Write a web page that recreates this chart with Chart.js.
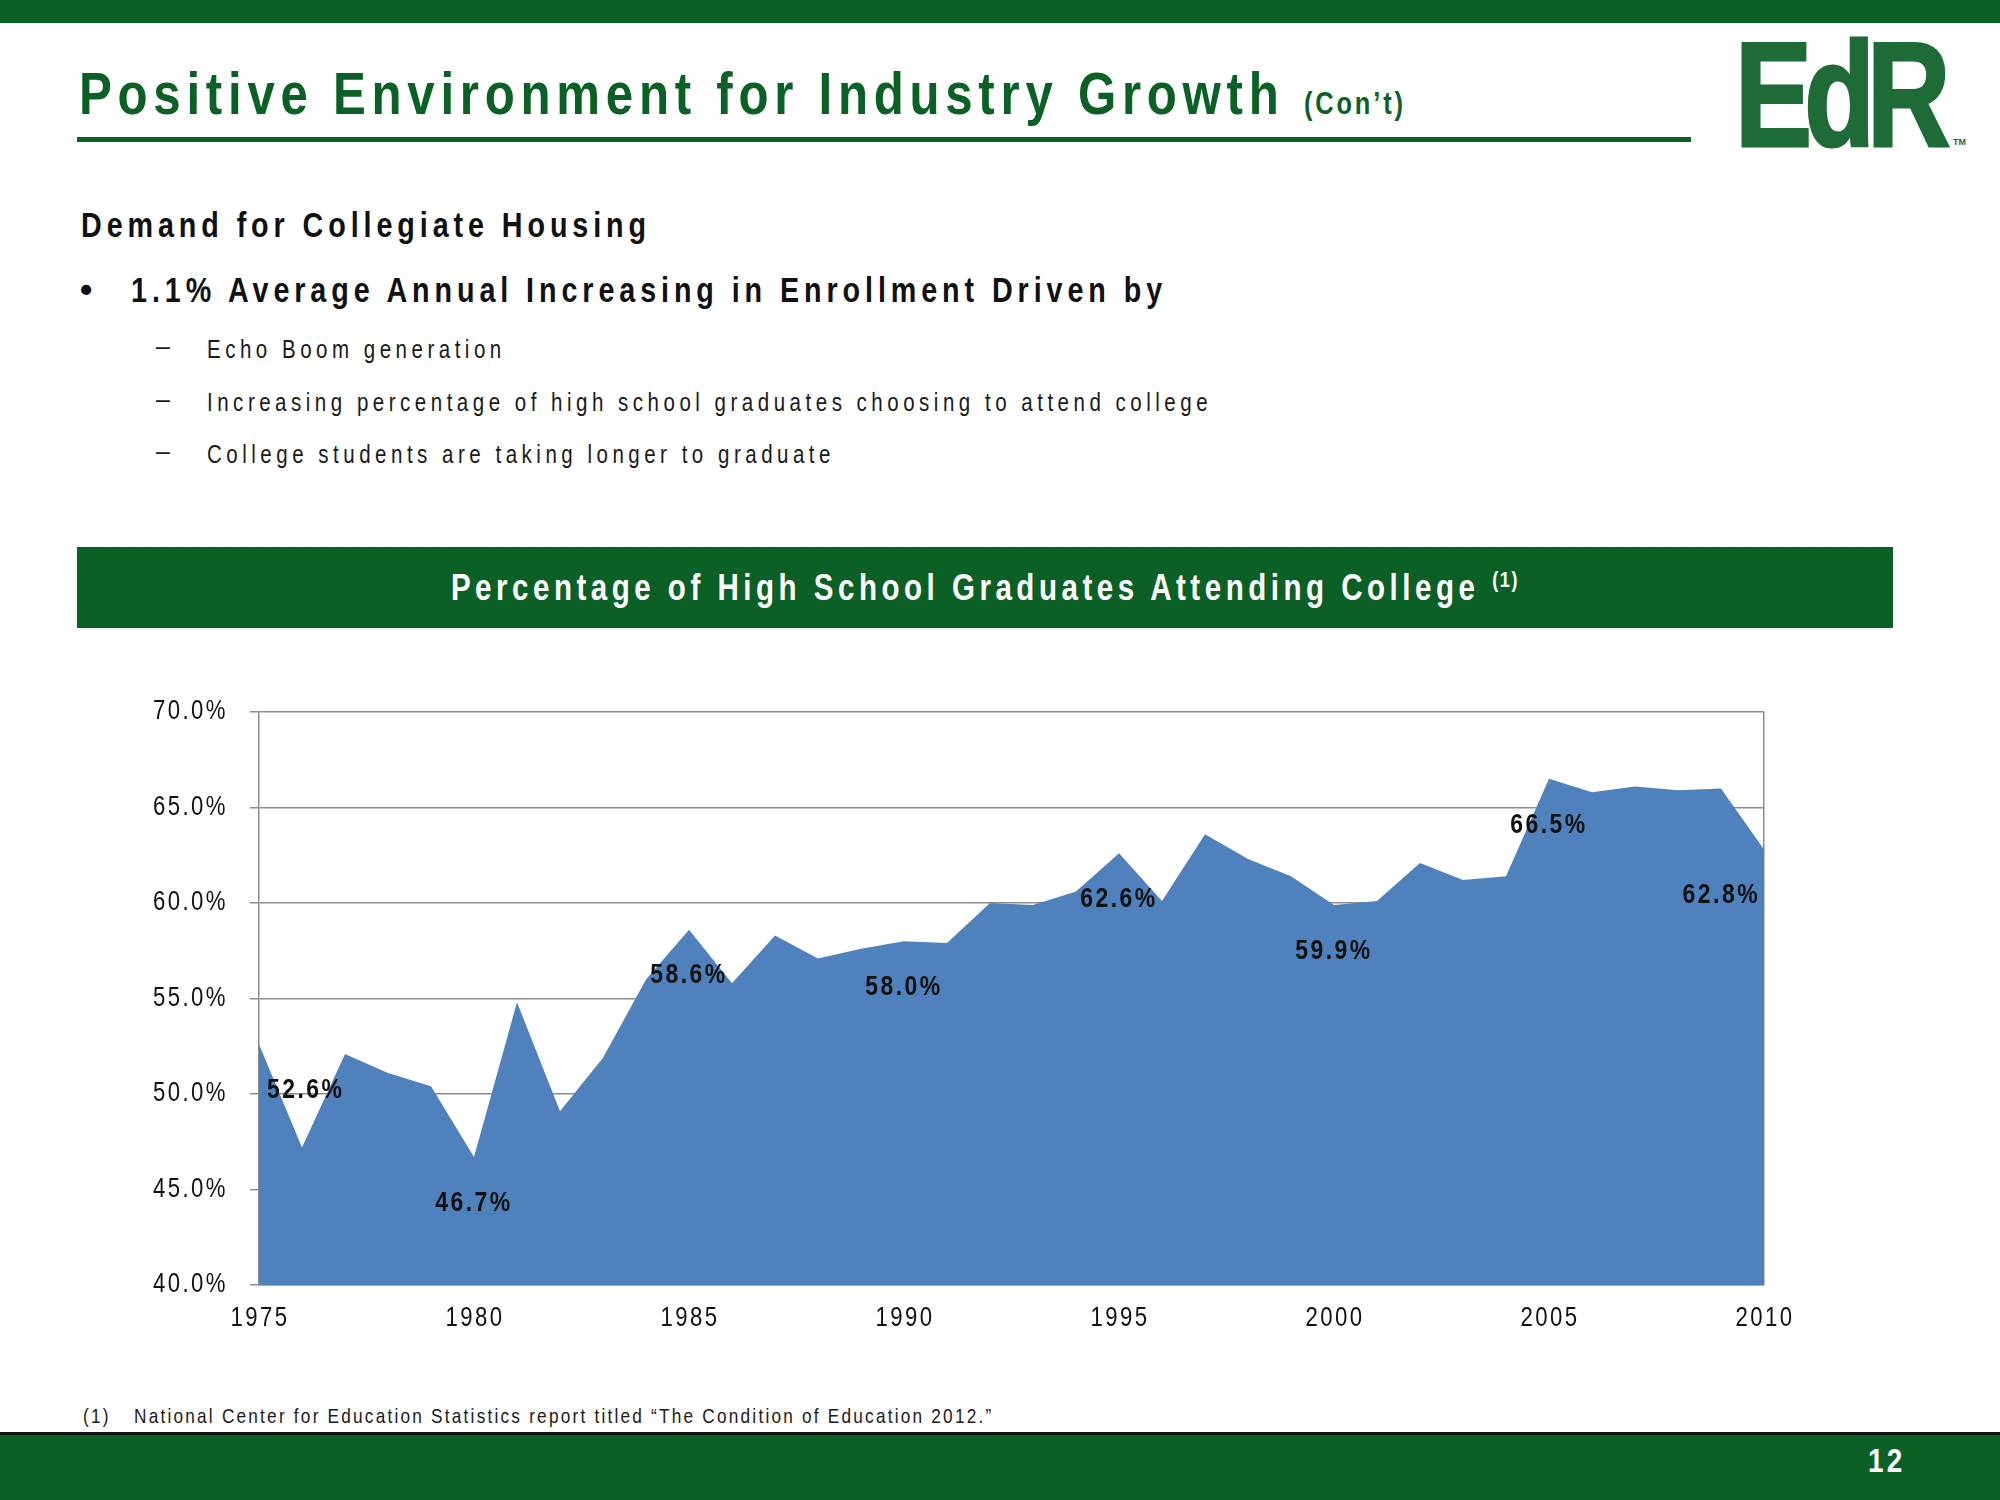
<!DOCTYPE html>
<html>
<head>
<meta charset="utf-8">
<script src="https://cdn.jsdelivr.net/npm/chart.js@4.4.0/dist/chart.umd.min.js"></script>
<style>
  body { margin: 0; background: #fff; }
  #page { position: relative; width: 2000px; height: 1500px; overflow: hidden; font-family: "Liberation Sans", Arial, sans-serif; color: #111; }
  .abs { position: absolute; line-height: 1; white-space: nowrap; }
  .nar { transform: scaleX(0.82); transform-origin: 0 0; }
  #topbar { position: absolute; left: 0; top: 0; width: 2000px; height: 23px; background: #0b6125; }
  #title { left: 79px; top: 64px; font-size: 60px; font-weight: bold; color: #0b6125; letter-spacing: 7px; }
  #title span { font-size: 31px; letter-spacing: 3.5px; }
  #rule { position: absolute; left: 77px; top: 137px; width: 1614px; height: 5px; background: #0b6125; }
  #logo { left: 1735px; top: 21px; font-size: 148px; font-weight: bold; color: #1e6b37; letter-spacing: -10px; -webkit-text-stroke: 3px #1e6b37; transform: scaleX(0.78); transform-origin: 0 0; }
  #tm { left: 1953px; top: 138px; font-size: 9px; font-weight: bold; color: #1e6b37; }
  .h1 { font-size: 35px; font-weight: bold; letter-spacing: 6px; }
  .sub { font-size: 25px; letter-spacing: 5.5px; color: #1a1a1a; }
  #band { position: absolute; left: 77px; top: 547px; width: 1816px; height: 81px; background: #0b6125; }
  #bandtext { position: absolute; left: 0; width: 100%; top: 22px; text-align: center; line-height: 1; color: #fff; font-size: 36px; font-weight: bold; letter-spacing: 5.5px; transform: scaleX(0.82); transform-origin: 50% 0; }
  #bandtext sup { font-size: 22px; letter-spacing: 2px; }
  .foot { font-size: 21px; letter-spacing: 2.7px; color: #1a1a1a; }
  #bottombar { position: absolute; left: 0; top: 1432px; width: 2000px; height: 68px; background: #0b6125; border-top: 3px solid #111; box-sizing: border-box; }
  #pagenum { left: 1868px; top: 1443px; font-size: 34px; font-weight: bold; color: #fff; letter-spacing: 4px; }
  #chartwrap { position: absolute; left: 100px; top: 690px; }
</style>
</head>
<body>
<div id="page">
  <div id="topbar"></div>
  <div class="abs nar" id="title">Positive Environment for Industry Growth <span>(Con’t)</span></div>
  <div id="rule"></div>
  <div class="abs" id="logo">EdR</div>
  <div class="abs" id="tm">TM</div>

  <div class="abs h1 nar" style="left:81px; top:207px;">Demand for Collegiate Housing</div>
  <div class="abs h1" style="left:80px; top:272px;">•</div>
  <div class="abs h1 nar" style="left:131px; top:272px;">1.1% Average Annual Increasing in Enrollment Driven by</div>

  <div class="abs sub" style="left:156px; top:334px;">–</div>
  <div class="abs sub nar" style="left:207px; top:337px;">Echo Boom generation</div>
  <div class="abs sub" style="left:156px; top:387px;">–</div>
  <div class="abs sub nar" style="left:207px; top:390px;">Increasing percentage of high school graduates choosing to attend college</div>
  <div class="abs sub" style="left:156px; top:439px;">–</div>
  <div class="abs sub nar" style="left:207px; top:442px;">College students are taking longer to graduate</div>

  <div id="band"><div id="bandtext">Percentage of High School Graduates Attending College <sup>(1)</sup></div></div>

  <div id="chartwrap"><canvas id="gradChart" width="1750" height="670"></canvas></div>

  <div class="abs foot nar" style="left:83px; top:1405px;">(1)</div>
  <div class="abs foot nar" style="left:134px; top:1405px;">National Center for Education Statistics report titled “The Condition of Education 2012.”</div>

  <div id="bottombar"></div>
  <div class="abs nar" id="pagenum">12</div>
</div>

<script>
// data
const years = [
  1975, 1976, 1977, 1978, 1979, 1980, 1981, 1982, 1983, 1984,
  1985, 1986, 1987, 1988, 1989, 1990, 1991, 1992, 1993, 1994,
  1995, 1996, 1997, 1998, 1999, 2000, 2001, 2002, 2003, 2004,
  2005, 2006, 2007, 2008, 2009, 2010,
];
const collegePct = [
  52.6, 47.2, 52.1, 51.1, 50.4, 46.7, 54.8, 49.1, 51.9, 56.0,
  58.6, 55.8, 58.3, 57.1, 57.6, 58.0, 57.9, 60.0, 59.9, 60.6,
  62.6, 60.1, 63.6, 62.3, 61.4, 59.9, 60.1, 62.1, 61.2, 61.4,
  66.5, 65.8, 66.1, 65.9, 66.0, 62.8,
];
const labelYears = [1975, 1980, 1985, 1990, 1995, 2000, 2005, 2010];
const xTicks = [1975, 1980, 1985, 1990, 1995, 2000, 2005, 2010];
const yTicks = [40, 45, 50, 55, 60, 65, 70];

const FONT = '"Liberation Sans", Arial, sans-serif';
const GRID = "#8c8c8c";
const NARROW = 0.82;

// no narrow font installed, so squeeze a normal one
function narrowText(ctx, txt, x, y, align) {
  ctx.save();
  ctx.translate(x, y);
  ctx.scale(NARROW, 1);
  ctx.textAlign = align;
  ctx.fillText(txt, 0, 0);
  ctx.restore();
}

// axis labels
const axisLabels = {
  id: "axisLabels",
  afterDraw(chart) {
    const ctx = chart.ctx;
    const area = chart.chartArea;
    const { x, y } = chart.scales;
    ctx.save();
    ctx.fillStyle = "#111";
    ctx.font = "27px " + FONT;
    ctx.letterSpacing = "3px";
    ctx.textBaseline = "middle";
    yTicks.forEach((v) => {
      const txt = v.toFixed(1) + "%";
      const w = ctx.measureText(txt).width * NARROW;
      narrowText(ctx, txt, area.left - 31 - w, y.getPixelForValue(v), "left");
    });
    xTicks.forEach((v) => {
      narrowText(ctx, String(v), x.getPixelForValue(v) + 1, area.bottom + 34, "center");
    });
    ctx.restore();
  },
};

// value labels every 5 years
const valueLabels = {
  id: "valueLabels",
  afterDatasetsDraw(chart) {
    const ctx = chart.ctx;
    const area = chart.chartArea;
    const meta = chart.getDatasetMeta(0);
    ctx.save();
    ctx.font = "bold 28px " + FONT;
    ctx.letterSpacing = "3px";
    ctx.fillStyle = "#111";
    ctx.textBaseline = "middle";
    meta.data.forEach((pt, i) => {
      if (!labelYears.includes(years[i])) return;
      const txt = collegePct[i].toFixed(1) + "%";
      const w = ctx.measureText(txt).width * NARROW;
      const x = Math.max(area.left + w / 2 + 8, Math.min(area.right - w / 2 - 4, pt.x));
      narrowText(ctx, txt, x, pt.y + 46, "center");
    });
    ctx.restore();
  },
};

window.onload = function () {
  const ctx = document.getElementById("gradChart").getContext("2d");
  new Chart(ctx, {
    type: "line",
    data: {
      datasets: [
        {
          data: years.map((yr, i) => ({ x: yr, y: collegePct[i] })),
          backgroundColor: "#4f81bd",
          borderColor: "#4f81bd",
          borderWidth: 0,
          pointRadius: 0,
          tension: 0,
          fill: "start",
        },
      ],
    },
    options: {
      responsive: false,
      animation: false,
      layout: { padding: { top: 22, right: 86, left: 0, bottom: 0 } },
      plugins: {
        legend: { display: false },
        tooltip: { enabled: false },
      },
      scales: {
        x: {
          type: "linear",
          min: 1975,
          max: 2010,
          afterFit(scale) {
            scale.height = 75;
          },
          ticks: { display: false, stepSize: 5 },
          grid: {
            drawTicks: false,
            lineWidth: 1.5,
            color: (c) => (c.tick && c.tick.value === 2010 ? GRID : "rgba(0,0,0,0)"),
          },
          border: { display: true, color: GRID, width: 1.5 },
        },
        y: {
          min: 40,
          max: 70,
          afterFit(scale) {
            scale.width = 159;
          },
          ticks: { display: false, stepSize: 5 },
          grid: { color: GRID, lineWidth: 1.5, tickLength: 9 },
          border: { display: true, color: GRID, width: 1.5 },
        },
      },
    },
    plugins: [axisLabels, valueLabels],
  });
};
</script>
</body>
</html>
